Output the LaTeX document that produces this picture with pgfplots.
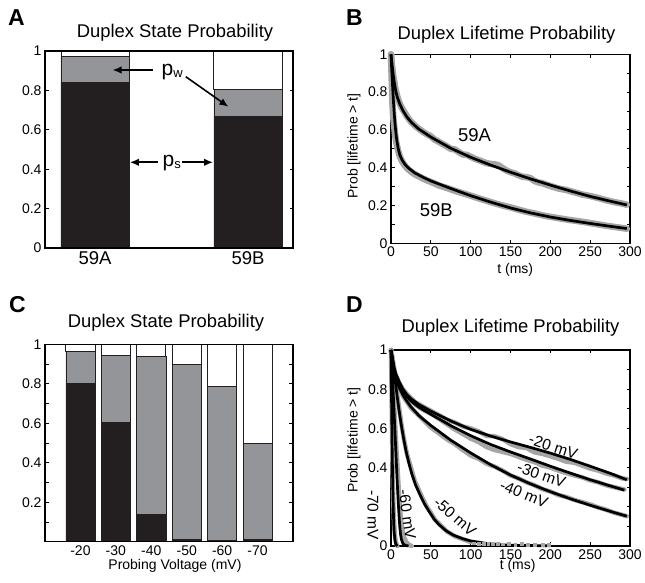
\documentclass[border=0pt]{standalone}
\usepackage{fontspec}
\setmainfont{Liberation Sans}
\usepackage{pgfplots}
\pgfplotsset{compat=1.18}
\usetikzlibrary{arrows.meta}

\definecolor{barblack}{RGB}{35,31,32}
\definecolor{bargray}{RGB}{148,149,152}
\definecolor{datagray}{RGB}{165,165,165}

\pgfplotsset{
  panel/.style={
    scale only axis,
    anchor=south west,
    clip=false,
    axis line style={line width=1.1pt},
    tick align=inside,
    major tick length=3.5pt,
    minor tick length=3.5pt,
    every tick/.style={black, line width=0.8pt},
    tick label style={font=\fontsize{14}{16}\selectfont},
    /pgf/number format/assume math mode=true,
    every axis title/.style={font=\fontsize{18.4}{20}\selectfont, at={(0.5,1)}, anchor=base},
    label style={font=\fontsize{14}{16}\selectfont},
  },
  fit/.style={black, line width=2.7pt, line join=round},
  data/.style={datagray, line width=6.5pt, line join=round, line cap=round},
}
\tikzset{
  dlabel/.style={font=\fontsize{15.5}{17}\selectfont, inner sep=0pt},
  ann/.style={-{Latex[length=9pt,width=7.5pt]}, line width=1.6pt},
}

\begin{document}
\begin{tikzpicture}
\useasboundingbox (0,0) rectangle (645pt,583pt);

% panel letters
\node[anchor=base west, font=\fontsize{23}{25}\selectfont\bfseries, inner sep=0pt] at (8pt,557pt) {A};
\node[anchor=base west, font=\fontsize{23}{25}\selectfont\bfseries, inner sep=0pt] at (346pt,557pt) {B};
\node[anchor=base west, font=\fontsize{23}{25}\selectfont\bfseries, inner sep=0pt] at (9pt,270.5pt) {C};
\node[anchor=base west, font=\fontsize{23}{25}\selectfont\bfseries, inner sep=0pt] at (346pt,270.5pt) {D};

% ---------- A ----------
\begin{axis}[panel, at={(45pt,335pt)}, width=248pt, height=197pt,
  title={Duplex State Probability}, title style={yshift=13pt, xshift=6pt},
  ybar stacked, bar width=0.446, axis on top,
  xmin=0.6725, xmax=2.294, ymin=0, ymax=1,
  xtick={1,2}, xticklabels={59A,59B},
  xticklabel style={font=\fontsize{18.5}{20}\selectfont},
  major x tick style={draw=none},
  ytick={0,0.2,0.4,0.6,0.8,1}, yticklabels={0,0.2,0.4,0.6,0.8,1},
]
\addplot[fill=barblack, draw=barblack, line width=0.6pt] coordinates {(1,0.840) (2,0.667)};
\addplot[fill=bargray, draw=barblack, line width=0.6pt] coordinates {(1,0.131) (2,0.140)};
\addplot[fill=white, draw=barblack, line width=0.9pt] coordinates {(1,0.029) (2,0.193)};
% anchor points for the annotations, drawn after the axis so they sit on the bars
\coordinate (pw0) at (1.3795,0.9036);
\coordinate (pw1) at (1.114,0.9036);
\coordinate (pw2) at (1.593,0.8695);
\coordinate (pw3) at (1.8716,0.717);
\coordinate (pwt) at (1.434,0.878);
\coordinate (ps0) at (1.412,0.435);
\coordinate (ps1) at (1.2273,0.435);
\coordinate (ps2) at (1.565,0.435);
\coordinate (ps3) at (1.771,0.435);
\coordinate (pst) at (1.441,0.4127);
\end{axis}
\draw[ann] (pw0) -- (pw1);
\draw[ann] (pw2) -- (pw3);
\node[anchor=base west, inner sep=0pt, font=\fontsize{21}{22}\selectfont] at (pwt) {p\raisebox{-2pt}{\fontsize{13}{14}\selectfont w}};
\draw[ann] (ps0) -- (ps1);
\draw[ann] (ps2) -- (ps3);
\node[anchor=base west, inner sep=0pt, font=\fontsize{21}{22}\selectfont] at (pst) {p\raisebox{-2pt}{\fontsize{13}{14}\selectfont s}};

% ---------- B ----------
\begin{axis}[panel, at={(391pt,339.7pt)}, width=239pt, height=189pt,
  title={Duplex Lifetime Probability}, title style={yshift=15pt, xshift=-4pt},
  xmin=0, xmax=300, ymin=0, ymax=1,
  xtick={0,50,100,150,200,250,300},
  ytick={0,0.2,0.4,0.6,0.8,1}, yticklabels={0,0.2,0.4,0.6,0.8,1},
  minor y tick num=1,
  xlabel={t (ms)}, ylabel={Prob [lifetime > t]},
  xlabel style={at={(axis description cs:0.52,-0.162)}, anchor=base},
  ylabel style={at={(axis description cs:-0.140,0.515)}, anchor=base},
]
% 59A data
\addplot[data] coordinates {(0,1) (1,0.95) (2,0.915) (3,0.88) (4,0.86) (5,0.83) (6,0.81) (8,0.775) (10,0.75) (13,0.72) (16,0.70) (20,0.672) (25,0.643) (30,0.622) (35,0.606) (40,0.59) (45,0.577) (50,0.566) (55,0.548) (60,0.537) (65,0.525) (70,0.513) (75,0.50) (80,0.497) (85,0.483) (90,0.47) (95,0.468) (100,0.458) (105,0.448) (110,0.44) (115,0.432) (120,0.424) (125,0.42) (130,0.418) (135,0.413) (140,0.398) (145,0.385) (150,0.376) (155,0.37) (160,0.36) (165,0.352) (170,0.35) (175,0.345) (180,0.33) (185,0.322) (190,0.318) (195,0.31) (200,0.303) (210,0.29) (220,0.282) (230,0.27) (240,0.258) (250,0.25) (260,0.24) (270,0.228) (280,0.218) (290,0.21) (296,0.204)};
% 59B data
\addplot[data] coordinates {(0,1) (0.5,0.92) (1,0.85) (1.5,0.78) (2,0.72) (3,0.66) (4,0.62) (5,0.58) (6,0.55) (7,0.525) (9,0.49) (11,0.46) (14,0.432) (18,0.408) (22,0.39) (26,0.376) (30,0.365) (35,0.354) (40,0.343) (45,0.333) (50,0.325) (55,0.316) (60,0.306) (70,0.293) (80,0.278) (90,0.265) (100,0.252) (110,0.238) (120,0.225) (130,0.212) (140,0.2) (150,0.19) (160,0.178) (170,0.167) (180,0.158) (190,0.148) (200,0.14) (210,0.133) (220,0.126) (230,0.12) (240,0.114) (250,0.107) (260,0.1) (270,0.093) (280,0.087) (290,0.081) (296,0.077)};
% fits
\addplot[fit] coordinates {(0,1.000) (1,0.960) (2,0.920) (3,0.885) (4,0.855) (5,0.830) (6,0.805) (8,0.772) (11,0.738) (15,0.702) (20,0.668) (26,0.638) (35,0.604) (50,0.562) (75,0.503) (100,0.455) (125,0.414) (150,0.376) (175,0.341) (200,0.308) (225,0.277) (250,0.248) (275,0.223) (296,0.203)};
\addplot[fit] coordinates {(0,1.000) (1,0.910) (2,0.830) (3,0.755) (4,0.690) (5,0.635) (6,0.590) (7,0.553) (9,0.502) (11,0.468) (14,0.440) (18,0.415) (22,0.398) (30,0.372) (40,0.350) (50,0.330) (75,0.290) (100,0.252) (125,0.218) (150,0.187) (175,0.161) (200,0.139) (225,0.121) (250,0.105) (275,0.090) (296,0.078)};
\node[font=\fontsize{18.5}{20}\selectfont, inner sep=0pt] at (104.8,0.571) {59A};
\node[font=\fontsize{18.5}{20}\selectfont, inner sep=0pt] at (56.9,0.176) {59B};
\end{axis}

% ---------- C ----------
\begin{axis}[panel, at={(45pt,41.3pt)}, width=248pt, height=197.5pt,
  title={Duplex State Probability}, title style={yshift=17pt, xshift=-3pt},
  ybar stacked, bar width=0.82, axis on top,
  xmin=0, xmax=7, ymin=0, ymax=1,
  xtick={1,2,3,4,5,6}, xticklabels={-20,-30,-40,-50,-60,-70},
  major x tick style={draw=none},
  ytick={0.2,0.4,0.6,0.8,1}, yticklabels={0.2,0.4,0.6,0.8,1},
  minor ytick={0.1,0.3,0.5,0.7,0.9},
  xlabel={Probing Voltage (mV)},
  xlabel style={at={(axis description cs:0.524,-0.14)}, anchor=base},
]
\addplot[fill=barblack, draw=barblack, line width=0.6pt] coordinates {(1,0.803) (2,0.604) (3,0.137) (4,0.012) (5,0.007) (6,0.010)};
\addplot[fill=bargray, draw=barblack, line width=0.6pt] coordinates {(1,0.159) (2,0.338) (3,0.801) (4,0.884) (5,0.781) (6,0.488)};
\addplot[fill=white, draw=barblack, line width=0.9pt] coordinates {(1,0.038) (2,0.058) (3,0.062) (4,0.104) (5,0.212) (6,0.502)};
\end{axis}

% ---------- D ----------
\begin{axis}[panel, at={(391pt,37pt)}, width=239pt, height=196pt,
  title={Duplex Lifetime Probability}, title style={yshift=17.3pt},
  xmin=0, xmax=300, ymin=0, ymax=1,
  xtick={0,50,100,150,200,250,300},
  ytick={0,0.2,0.4,0.6,0.8,1}, yticklabels={0,,0.4,0.6,0.8,1},
  minor y tick num=1,
  xlabel={t (ms)}, ylabel={Prob [lifetime > t]},
  xlabel style={at={(axis description cs:0.53,-0.122)}, anchor=base},
  ylabel style={at={(axis description cs:-0.140,0.54)}, anchor=base},
  data/.append style={line width=4.5pt},
]
% data
\addplot[data] coordinates {(0,1) (2,0.94) (4,0.9) (6,0.87) (8,0.855) (10,0.835) (15,0.8) (20,0.775) (25,0.755) (30,0.735) (40,0.712) (50,0.69) (60,0.668) (70,0.645) (80,0.63) (90,0.61) (100,0.6) (110,0.585) (120,0.562) (130,0.56) (140,0.545) (150,0.52) (160,0.505) (170,0.5) (180,0.478) (190,0.47) (200,0.458) (210,0.445) (220,0.43) (230,0.425) (240,0.41) (250,0.395) (260,0.385) (270,0.37) (280,0.36) (290,0.345) (296,0.342)};
\addplot[data] coordinates {(0,1) (2,0.94) (4,0.89) (6,0.865) (8,0.845) (10,0.825) (15,0.79) (20,0.765) (25,0.74) (30,0.722) (40,0.695) (50,0.675) (60,0.65) (70,0.622) (80,0.595) (90,0.572) (100,0.548) (110,0.53) (120,0.505) (130,0.49) (140,0.48) (150,0.47) (160,0.455) (170,0.44) (180,0.428) (190,0.41) (200,0.4) (210,0.385) (220,0.372) (230,0.36) (240,0.35) (250,0.335) (260,0.325) (270,0.31) (280,0.3) (293,0.288)};
\addplot[data] coordinates {(0,1) (2,0.93) (4,0.885) (6,0.855) (8,0.83) (10,0.81) (15,0.765) (20,0.735) (25,0.705) (30,0.685) (40,0.645) (50,0.605) (60,0.575) (70,0.545) (80,0.52) (90,0.49) (100,0.462) (110,0.445) (120,0.42) (130,0.405) (140,0.385) (150,0.36) (160,0.345) (170,0.325) (180,0.31) (190,0.29) (200,0.278) (210,0.26) (220,0.25) (230,0.235) (240,0.224) (250,0.212) (260,0.197) (270,0.185) (280,0.17) (296,0.152)};
\addplot[data] coordinates {(0,1) (2,0.96) (4,0.9) (6,0.83) (8,0.765) (10,0.71) (13,0.625) (16,0.55) (20,0.47) (25,0.4) (30,0.33) (35,0.285) (40,0.24) (45,0.2) (50,0.17) (55,0.135) (60,0.115) (65,0.095) (70,0.075) (80,0.05) (90,0.035) (100,0.02)};
\addplot[datagray, only marks, mark=square*, mark size=1.4pt] coordinates {(104,0.014) (110,0.012) (116,0.011) (122,0.013) (128,0.01) (134,0.012) (140,0.009) (148,0.011) (156,0.008) (164,0.01) (172,0.006) (180,0.008) (190,0.005) (198,0.006)};
\addplot[data] coordinates {(0,1) (1,0.95) (2,0.88) (3,0.8) (4,0.72) (5,0.64) (6,0.56) (7,0.48) (8,0.41) (9,0.34) (10,0.27) (11,0.21) (12,0.16) (13,0.12) (14,0.09) (16,0.05) (18,0.03) (20,0.015) (23,0.005) (26,0)};
\addplot[data] coordinates {(0,1) (0.5,0.85) (1,0.68) (1.5,0.52) (2,0.4) (2.5,0.3) (3,0.21) (4,0.11) (5,0.05) (6,0.02) (8,0)};
% fits
\addplot[fit] coordinates {(0,1) (2,0.95) (4,0.91) (6,0.88) (10,0.84) (15,0.80) (20,0.772) (25,0.752) (35,0.722) (50,0.688) (75,0.638) (100,0.595) (125,0.561) (150,0.531) (175,0.503) (200,0.474) (225,0.442) (250,0.407) (275,0.371) (296,0.338)};
\addplot[fit] coordinates {(0,1) (2,0.95) (4,0.9) (6,0.87) (10,0.83) (15,0.79) (20,0.762) (25,0.74) (35,0.708) (50,0.672) (75,0.614) (100,0.563) (125,0.518) (150,0.48) (175,0.444) (200,0.407) (225,0.372) (250,0.338) (275,0.307) (293,0.285)};
\addplot[fit] coordinates {(0,1) (2,0.94) (4,0.89) (6,0.86) (10,0.81) (15,0.77) (20,0.738) (25,0.71) (35,0.665) (50,0.615) (75,0.54) (100,0.475) (125,0.415) (150,0.362) (175,0.317) (200,0.277) (225,0.241) (250,0.208) (275,0.177) (296,0.152)};
\addplot[fit] coordinates {(0,1) (2,0.95) (4,0.89) (6,0.82) (8,0.755) (10,0.695) (13,0.615) (16,0.545) (19,0.482) (22,0.43) (26,0.37) (31,0.31) (36,0.265) (42,0.215) (48,0.175) (54,0.138) (60,0.11) (69,0.078) (78,0.056) (90,0.037) (100,0.026) (120,0.013) (140,0.006) (160,0.003) (200,0.001)};
\addplot[fit] coordinates {(0,1) (1,0.93) (2,0.85) (3,0.76) (4,0.67) (5,0.58) (6,0.49) (7,0.4) (8,0.31) (9,0.23) (10,0.16) (11,0.1) (12,0.06) (13,0.035) (15,0.012) (18,0.003) (22,0)};
\addplot[fit] coordinates {(0,1) (0.5,0.82) (1,0.64) (1.5,0.48) (2,0.35) (2.5,0.25) (3,0.17) (3.5,0.11) (4,0.07) (5,0.03) (6,0.01) (8,0)};
\node[dlabel, rotate=-18] at (203.7,0.507) {-20 mV};
\node[dlabel, rotate=-19] at (189,0.362) {-30 mV};
\node[dlabel, rotate=-22] at (166.9,0.265) {-40 mV};
\node[dlabel, rotate=-41] at (80.3,0.15) {-50 mV};
\node[dlabel, rotate=-82] at (20.5,0.16) {-60 mV};
\node[dlabel, rotate=-90] at (-22.6,0.158) {-70 mV};
\end{axis}
\end{tikzpicture}
\end{document}
